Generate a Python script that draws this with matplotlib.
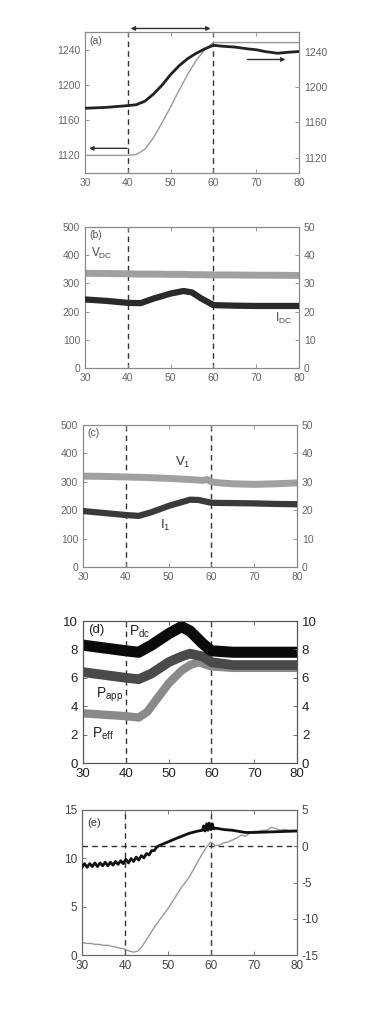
import numpy as np
import matplotlib
matplotlib.use("Agg")
import matplotlib.pyplot as plt

plt.rcParams['font.family'] = ['Liberation Sans', 'DejaVu Sans']
plt.rcParams['mathtext.fontset'] = 'custom'
plt.rcParams['mathtext.rm'] = 'Liberation Sans'
plt.rcParams['axes.unicode_minus'] = False

# (a) temperatures
xa_black = [30, 35, 40, 42, 44, 46, 48, 50, 52, 54, 56, 58, 59, 60, 62, 65, 68, 70, 72, 75, 77, 80]
ya_black = [1176, 1177, 1179, 1180, 1184, 1192, 1202, 1214, 1224, 1232, 1238, 1243, 1245, 1247, 1246, 1245, 1243, 1242, 1240, 1238, 1239, 1240]
xa_gray = [30, 40, 42, 44, 46, 48, 50, 52, 54, 56, 58, 59, 60, 80]
ya_gray = [1120, 1120, 1121, 1127, 1140, 1157, 1175, 1194, 1212, 1228, 1240, 1244, 1248, 1248]

# (b) dc side
xb = [30, 35, 40, 43, 46, 50, 53, 55, 57, 60, 65, 70, 75, 80]
vdc = [336, 335, 334, 333, 333, 332, 332, 331, 331, 330, 330, 329, 329, 328]
idc = [24.3, 23.8, 23.1, 23.0, 24.6, 26.4, 27.3, 26.8, 24.8, 22.3, 22.1, 22.0, 22.0, 22.0]

# (c) ac side
xc_v = [30, 35, 40, 45, 50, 55, 58, 59, 60, 62, 65, 70, 75, 80]
v1 = [320, 319, 317, 315, 312, 308, 305, 308, 300, 296, 293, 291, 293, 296]
xc_i = [30, 35, 40, 43, 46, 50, 55, 57, 60, 65, 70, 75, 80]
i1 = [19.7, 19.0, 18.3, 18.0, 19.3, 21.5, 23.7, 23.6, 22.6, 22.5, 22.4, 22.2, 22.1]

# (d) powers
xd = [30, 35, 40, 43, 46, 50, 53, 55, 58, 60, 65, 70, 75, 80]
pdc = [8.3, 8.1, 7.9, 7.8, 8.3, 9.1, 9.6, 9.3, 8.4, 7.9, 7.8, 7.8, 7.8, 7.8]
papp = [6.4, 6.2, 6.0, 5.9, 6.3, 7.1, 7.5, 7.7, 7.5, 7.1, 6.9, 6.9, 6.9, 6.9]
xd_eff = [30, 35, 40, 43, 45, 47, 50, 53, 55, 57, 60, 65, 70, 75, 80]
peff = [3.5, 3.4, 3.3, 3.2, 3.6, 4.4, 5.6, 6.5, 6.9, 7.1, 6.8, 6.7, 6.7, 6.7, 6.7]

# (e)
xe_black = [30.0, 30.6, 31.2, 31.8, 32.4, 33.0, 33.6, 34.2, 34.8, 35.4, 36.0, 36.6, 37.2, 37.8,
            38.4, 39.0, 39.6, 40.2, 40.8, 41.4, 42.0, 42.6, 43.2, 43.8, 44.4, 45.0, 45.6, 46.2,
            46.8, 47.4, 48, 50, 52, 55, 57, 58, 58.3, 58.6, 59, 59.3, 59.6, 60, 60.3, 60.6, 61,
            63, 65, 68, 70, 75, 80]
ye_black = [-2.9, -2.4, -2.9, -2.4, -2.8, -2.3, -2.8, -2.3, -2.7, -2.2, -2.7, -2.2, -2.6, -2.1,
            -2.5, -2.0, -2.4, -1.8, -2.3, -1.7, -2.1, -1.5, -1.9, -1.3, -1.6, -1.0, -1.2, -0.6,
            -0.6, -0.1, 0.1, 0.6, 1.1, 1.8, 2.1, 2.2, 2.8, 2.1, 3.1, 2.2, 3.2, 2.3, 3.1, 2.4, 2.5,
            2.3, 2.2, 1.9, 1.9, 2.0, 2.1]
xe_gray = list(range(30, 81))
ye_gray = [1.3, 1.2, 1.2, 1.1, 1.1, 1.0, 1.0, 0.9, 0.8, 0.7, 0.6, 0.4, 0.3, 0.4, 0.9, 1.6, 2.3,
           3.0, 3.6, 4.2, 4.8, 5.5, 6.2, 6.9, 7.5, 8.1, 8.9, 9.7, 10.5, 11.2, 11.7, 11.3, 11.4,
           11.6, 11.7, 11.9, 12.1, 12.4, 12.3, 12.6, 12.8, 12.8, 12.9, 12.9, 13.2, 13.1, 12.9,
           13.0, 12.9, 12.9, 12.9]

W, H = 380, 1024
fig = plt.figure(figsize=(W / 100, H / 100), dpi=100)


def make_axes(l, r, t, b):
    return fig.add_axes([l / W, 1 - b / H, (r - l) / W, (b - t) / H])


def style(ax, ax2, fs, col, spine):
    for a in (ax, ax2):
        a.tick_params(direction='in', labelsize=fs, labelcolor=col, color=spine,
                      length=3, width=0.6, top=True)
        for s in a.spines.values():
            s.set_color(spine)
            s.set_linewidth(0.8)
    ax.set_xlim(30, 80)
    ax.set_xticks([30, 40, 50, 60, 70, 80])
    for xv in (40, 60):
        ax.axvline(xv, color='#333333', ls=(0, (4, 3)), lw=1.0, zorder=1)


# ---- (a)
ax = make_axes(85, 299, 32, 173)
ax2 = ax.twinx()
ax.set_ylim(1100, 1260)
ax2.set_ylim(1103, 1262)
ax.set_yticks([1120, 1160, 1200, 1240])
ax2.set_yticks([1120, 1160, 1200, 1240])
style(ax, ax2, 7.5, '#666666', '#888888')
ax.plot(xa_gray, ya_gray, color='#999999', lw=1.0, zorder=2)
ax2.plot(xa_black, ya_black, color='#222222', lw=2.0, zorder=3)
ax.text(31, 1255, '(a)', fontsize=7.5, color='#555555', va='top')
ax.annotate('', xy=(60, 1264), xytext=(40, 1264), annotation_clip=False,
            arrowprops=dict(arrowstyle='<|-|>', color='#333333', lw=1.0, mutation_scale=6))
ax.annotate('', xy=(30.3, 1128), xytext=(40.5, 1128),
            arrowprops=dict(arrowstyle='-|>', color='#333333', lw=1.0, mutation_scale=6))
ax2.annotate('', xy=(77.5, 1231), xytext=(67.3, 1231),
             arrowprops=dict(arrowstyle='-|>', color='#333333', lw=1.0, mutation_scale=6))

# ---- (b)
ax = make_axes(85, 299, 227, 368)
ax2 = ax.twinx()
ax.set_ylim(0, 500)
ax2.set_ylim(0, 50)
ax.set_yticks(range(0, 501, 100))
ax2.set_yticks(range(0, 51, 10))
style(ax, ax2, 7.5, '#666666', '#888888')
ax.plot(xb, vdc, color='#a0a0a0', lw=5, zorder=2)
ax2.plot(xb, idc, color='#2a2a2a', lw=4.5, zorder=3)
ax.text(31, 490, '(b)', fontsize=7.5, color='#555555', va='top')
ax.text(31.5, 395, r'V$_{\rm DC}$', fontsize=8.5, color='#444444')
ax.text(74.5, 165, r'I$_{\rm DC}$', fontsize=8.5, color='#444444')

# ---- (c)
ax = make_axes(83, 297, 425, 567)
ax2 = ax.twinx()
ax.set_ylim(0, 500)
ax2.set_ylim(0, 50)
ax.set_yticks(range(0, 501, 100))
ax2.set_yticks(range(0, 51, 10))
style(ax, ax2, 7.5, '#666666', '#888888')
ax.plot(xc_v, v1, color='#a0a0a0', lw=5, zorder=2)
ax2.plot(xc_i, i1, color='#3a3a3a', lw=4.5, zorder=3)
ax.text(31, 490, '(c)', fontsize=7.5, color='#555555', va='top')
ax.text(51.5, 355, r'V$_1$', fontsize=9.5, color='#333333')
ax.text(48, 135, r'I$_1$', fontsize=9.5, color='#333333')

# ---- (d)
ax = make_axes(83, 297, 621, 763)
ax2 = ax.twinx()
ax.set_ylim(0, 10)
ax2.set_ylim(0, 10)
ax.set_yticks(range(0, 11, 2))
ax2.set_yticks(range(0, 11, 2))
style(ax, ax2, 9.5, '#222222', '#555555')
ax.plot(xd_eff, peff, color='#8a8a8a', lw=6, zorder=2)
ax.plot(xd, papp, color='#4a4a4a', lw=7, zorder=3)
ax.plot(xd, pdc, color='#0a0a0a', lw=8, zorder=4)
ax.text(31.2, 9.8, '(d)', fontsize=9.5, color='#222222', va='top')
ax.text(40.8, 9.0, r'P$_{\rm dc}$', fontsize=10, color='#222222')
ax.text(33, 4.6, r'P$_{\rm app}$', fontsize=10, color='#222222')
ax.text(32, 1.8, r'P$_{\rm eff}$', fontsize=10, color='#222222')

# ---- (e)
ax = make_axes(82, 297, 810, 955)
ax2 = ax.twinx()
ax.set_ylim(0, 15)
ax2.set_ylim(-15, 5)
ax.set_yticks([0, 5, 10, 15])
ax2.set_yticks([-15, -10, -5, 0, 5])
style(ax, ax2, 8.5, '#444444', '#666666')
ax2.axhline(0, color='#333333', ls=(0, (4, 3)), lw=1.0, zorder=1)
ax.plot(xe_gray, ye_gray, color='#999999', lw=1.0, zorder=2)
ax2.plot(xe_black, ye_black, color='#111111', lw=2.0, zorder=3)
ax.text(31.2, 14.2, '(e)', fontsize=8, color='#333333', va='top')

fig.savefig('out.png', dpi=100)
